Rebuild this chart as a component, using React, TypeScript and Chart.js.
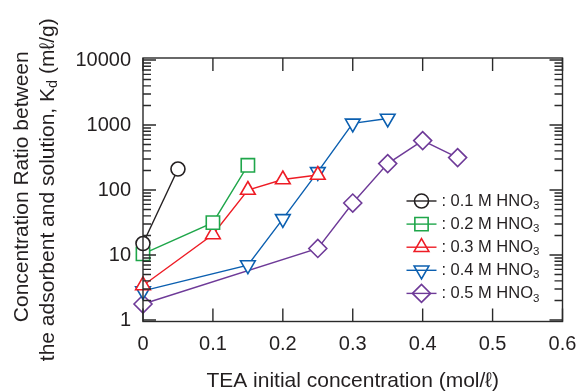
import React, { useEffect, useRef } from 'react';
import { Chart, registerables } from 'chart.js';

Chart.register(...registerables);

// ---- data ----
const seriesLabels = ['0.1 M HNO₃', '0.2 M HNO₃', '0.3 M HNO₃', '0.4 M HNO₃', '0.5 M HNO₃'];
const tea01 = [0, 0.05];
const kd01 = [15, 210];
const tea02 = [0, 0.1, 0.15];
const kd02 = [10.4, 31.5, 240];
const tea03 = [0, 0.1, 0.15, 0.2, 0.25];
const kd03 = [3.4, 20.7, 100, 145, 170];
const tea04 = [0, 0.15, 0.2, 0.25, 0.3, 0.35];
const kd04 = [2.8, 7.0, 36, 190, 1060, 1260];
const tea05 = [0, 0.25, 0.3, 0.35, 0.4, 0.45];
const kd05 = [1.76, 12.6, 63, 255, 575, 315];
const xTickValues = [0, 0.1, 0.2, 0.3, 0.4, 0.5, 0.6];
const yTickValues = [1, 10, 100, 1000, 10000];
const yMinorSignificands = [2, 3, 4, 5, 6, 7, 8, 9];
const xTitle = 'TEA initial concentration (mol/ℓ)';
const yTitleLine1 = 'Concentration Ratio between';
const yTitleLine2 = ['the adsorbent and solution, K', 'd', ' (mℓ/g)'];

const colors = ['#231f20', '#1fa64a', '#ee1c25', '#0b5fb0', '#6e3a98'];
const styles = ['circle', 'rect', 'triangle', 'triangle', 'rectRot'];
const rotations = [0, 0, 0, 180, 0];
const radii = [7, 9.4, 8.5, 8.5, 9];

const TEXT = '#231f20';
const FONT = '"Liberation Sans", Arial, Helvetica, sans-serif';

const seriesX = [tea01, tea02, tea03, tea04, tea05];
const seriesY = [kd01, kd02, kd03, kd04, kd05];

function drawMarker(ctx: CanvasRenderingContext2D, style: string, rot: number, r: number, x: number, y: number) {
  ctx.beginPath();
  if (style === 'circle') {
    ctx.arc(x, y, r, 0, Math.PI * 2);
  } else if (style === 'rect') {
    const s = r * Math.SQRT1_2;
    ctx.rect(x - s, y - s, 2 * s, 2 * s);
  } else if (style === 'rectRot') {
    ctx.moveTo(x - r, y);
    ctx.lineTo(x, y - r);
    ctx.lineTo(x + r, y);
    ctx.lineTo(x, y + r);
    ctx.closePath();
  } else {
    let a = (rot * Math.PI) / 180;
    ctx.moveTo(x + Math.sin(a) * r, y - Math.cos(a) * r);
    a += (2 * Math.PI) / 3;
    ctx.lineTo(x + Math.sin(a) * r, y - Math.cos(a) * r);
    a += (2 * Math.PI) / 3;
    ctx.lineTo(x + Math.sin(a) * r, y - Math.cos(a) * r);
    ctx.closePath();
  }
  ctx.stroke();
}

const framePlugin = {
  id: 'frameTicks',
  afterDatasetsDraw(chart: any) {
    const { ctx, chartArea: a, scales } = chart;
    const xs = scales.x;
    const ys = scales.y;
    ctx.save();
    ctx.strokeStyle = '#2a2a2a';
    ctx.lineWidth = 1.4;
    ctx.strokeRect(a.left, a.top, a.right - a.left, a.bottom - a.top);
    ctx.beginPath();
    for (let i = 0; i < yTickValues.length; i++) {
      const base = yTickValues[i];
      const py = ys.getPixelForValue(base);
      ctx.moveTo(a.left, py);
      ctx.lineTo(a.left + 13, py);
      ctx.moveTo(a.right, py);
      ctx.lineTo(a.right - 13, py);
      if (i < yTickValues.length - 1) {
        for (const k of yMinorSignificands) {
          const pm = ys.getPixelForValue(base * k);
          ctx.moveTo(a.left, pm);
          ctx.lineTo(a.left + 8, pm);
          ctx.moveTo(a.right, pm);
          ctx.lineTo(a.right - 8, pm);
        }
      }
    }
    for (const v of xTickValues) {
      const px = xs.getPixelForValue(v);
      ctx.moveTo(px, a.bottom);
      ctx.lineTo(px, a.bottom - 13);
      ctx.moveTo(px, a.top);
      ctx.lineTo(px, a.top + 13);
    }
    ctx.stroke();
    ctx.restore();
  },
  afterDraw(chart: any) {
    const { ctx, chartArea: a } = chart;
    ctx.save();
    ctx.fillStyle = TEXT;
    const big = `21px ${FONT}`;
    const small = `14.5px ${FONT}`;
    // x title
    ctx.font = big;
    ctx.textAlign = 'center';
    ctx.textBaseline = 'middle';
    ctx.fillText(xTitle, (a.left + a.right) / 2, 381);
    // y title
    const cy = (a.top + a.bottom) / 2;
    ctx.save();
    ctx.translate(22, cy - 3);
    ctx.rotate(-Math.PI / 2);
    ctx.fillText(yTitleLine1, 0, 0);
    ctx.restore();
    ctx.save();
    ctx.translate(48, cy);
    ctx.rotate(-Math.PI / 2);
    ctx.textAlign = 'left';
    ctx.font = big;
    const w0 = ctx.measureText(yTitleLine2[0]).width;
    const w2 = ctx.measureText(yTitleLine2[2]).width;
    ctx.font = small;
    const w1 = ctx.measureText(yTitleLine2[1]).width;
    let x0 = -(w0 + w1 + w2) / 2;
    ctx.font = big;
    ctx.fillText(yTitleLine2[0], x0, 0);
    x0 += w0;
    ctx.font = small;
    ctx.fillText(yTitleLine2[1], x0, 5);
    x0 += w1;
    ctx.font = big;
    ctx.fillText(yTitleLine2[2], x0, 0);
    ctx.restore();

    // legend
    const lx0 = a.right - 156;
    const ly0 = a.bottom - 120.5;
    const step = 23.1;
    chart.data.datasets.forEach((ds: any, i: number) => {
      const y = ly0 + i * step;
      ctx.strokeStyle = ds.borderColor;
      ctx.lineWidth = 1.4;
      ctx.beginPath();
      ctx.moveTo(lx0, y);
      ctx.lineTo(lx0 + 30, y);
      ctx.stroke();
      ctx.lineWidth = 1.6;
      drawMarker(ctx, styles[i], rotations[i], radii[i], lx0 + 15, y);
      ctx.fillStyle = TEXT;
      ctx.textAlign = 'left';
      ctx.textBaseline = 'middle';
      ctx.font = `16.5px ${FONT}`;
      ctx.fillText(':', lx0 + 35, y);
      const label: string = ds.label;
      const parts = label.split('₃');
      ctx.fillText(parts[0], lx0 + 44, y);
      const w = ctx.measureText(parts[0]).width;
      ctx.font = `11.5px ${FONT}`;
      ctx.fillText('3', lx0 + 44 + w, y + 5);
    });
    ctx.restore();
  },
};

export default function App() {
  const ref = useRef<HTMLCanvasElement | null>(null);
  useEffect(() => {
    if (!ref.current) return;
    const datasets = seriesLabels.map((label, i) => ({
      label,
      data: seriesX[i].map((x, j) => ({ x, y: seriesY[i][j] })),
      borderColor: colors[i],
      backgroundColor: '#ffffff',
      pointBackgroundColor: '#ffffff',
      pointBorderColor: colors[i],
      pointStyle: styles[i],
      pointRotation: rotations[i],
      pointRadius: radii[i],
      pointBorderWidth: 1.6,
      borderWidth: 1.4,
      showLine: true,
      fill: false,
      tension: 0,
      clip: false,
    }));
    const chart = new Chart(ref.current, {
      type: 'line',
      data: { datasets },
      options: {
        responsive: false,
        animation: false,
        events: [],
        layout: { padding: { top: 58, right: 13.5, left: 0, bottom: 0 } },
        plugins: { legend: { display: false }, tooltip: { enabled: false } },
        scales: {
          x: {
            type: 'linear',
            min: 0,
            max: 0.6,
            afterFit: (s: any) => {
              s.height = 70.5;
              s.paddingLeft = 0;
              s.paddingRight = 0;
            },
            afterBuildTicks: (s: any) => {
              s.ticks = xTickValues.map((v) => ({ value: v }));
            },
            grid: { display: false, drawTicks: false },
            border: { display: false },
            ticks: {
              padding: 11,
              color: TEXT,
              font: { family: FONT, size: 20 },
              maxRotation: 0,
              autoSkip: false,
              callback: (v: any) => String(v),
            },
          },
          y: {
            type: 'logarithmic',
            min: 0.948,
            max: 10734,
            afterFit: (s: any) => {
              s.width = 143;
              s.paddingTop = 0;
              s.paddingBottom = 0;
            },
            afterBuildTicks: (s: any) => {
              s.ticks = yTickValues.map((v) => ({ value: v }));
            },
            grid: { display: false, drawTicks: false },
            border: { display: false },
            ticks: {
              padding: 12,
              color: TEXT,
              font: { family: FONT, size: 20 },
              autoSkip: false,
              callback: (v: any) => String(v),
            },
          },
        },
      },
      plugins: [framePlugin],
    } as any);
    return () => chart.destroy();
  }, []);
  return (
    <div style={{ position: 'fixed', left: 0, top: 0, width: 576, height: 392, background: '#fff' }}>
      <canvas ref={ref} width={576} height={392} style={{ width: 576, height: 392, display: 'block' }} />
    </div>
  );
}
